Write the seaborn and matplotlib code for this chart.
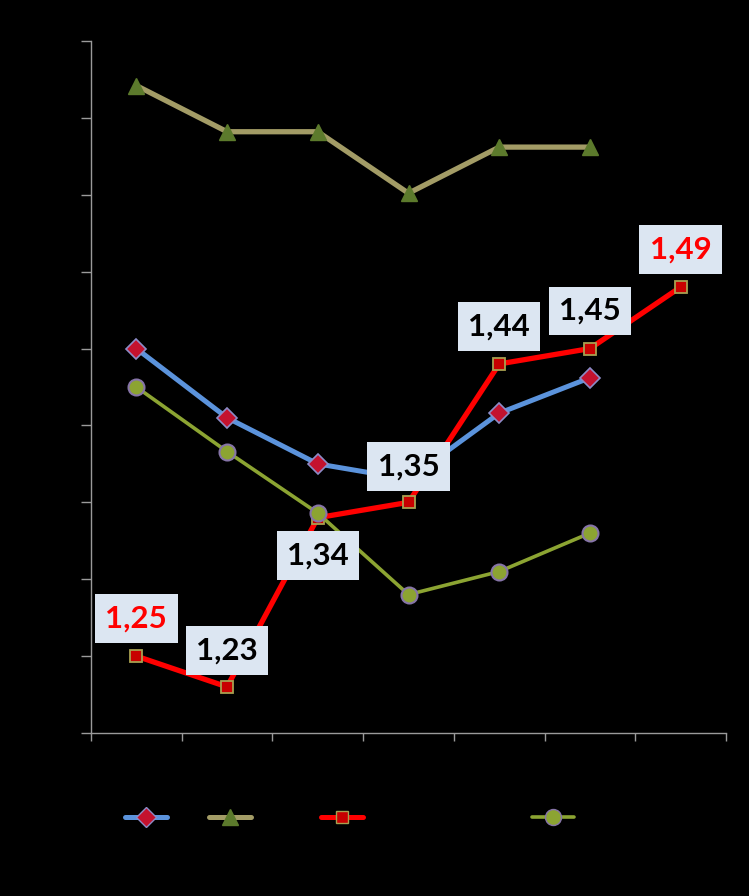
import matplotlib
matplotlib.use("Agg")
import matplotlib.pyplot as plt
import seaborn as sns
from matplotlib.lines import Line2D
from matplotlib.ticker import FixedLocator, FuncFormatter

# ---- data ----
positions = [0, 1, 2, 3, 4, 5, 6]
series_blue = [1.45, 1.405, 1.375, 1.365, 1.408, 1.431]
series_green = [1.621, 1.591, 1.591, 1.551, 1.581, 1.581]
series_red = [1.25, 1.23, 1.34, 1.35, 1.44, 1.45, 1.49]
series_olive = [1.425, 1.383, 1.343, 1.290, 1.305, 1.330]
red_labels = ["1,25", "1,23", "1,34", "1,35", "1,44", "1,45", "1,49"]
red_label_colors = ["#ff0000", "#000000", "#000000", "#000000", "#000000", "#000000", "#ff0000"]
red_label_dy = [27, 26, -27, 26, 27, 27, 27]
y_ticks = [1.20, 1.25, 1.30, 1.35, 1.40, 1.45, 1.50, 1.55, 1.60, 1.65]

sns.set_theme(style="white")
plt.rcParams["font.family"] = ["Lato", "DejaVu Sans"]

fig = plt.figure(figsize=(7.49, 8.96), dpi=100, facecolor="black")
ax = fig.add_axes([91 / 749, 1 - 733 / 896, (726 - 91) / 749, (733 - 41) / 896])
ax.set_facecolor("black")

sns.lineplot(x=positions[:len(series_blue)], y=series_blue, ax=ax, color="#5b93dc",
             linewidth=3.6, marker="D", markersize=10, markerfacecolor="#c4122e",
             markeredgecolor="#8c8cc8", markeredgewidth=1.2, zorder=3)
sns.lineplot(x=positions[:len(series_green)], y=series_green, ax=ax, color="#a39c66",
             linewidth=3.8, marker="^", markersize=11.5, markerfacecolor="#5c7a2c",
             markeredgecolor="#5c7a2c", markeredgewidth=1.0, zorder=3)
sns.lineplot(x=positions, y=series_red, ax=ax, color="#ff0000",
             linewidth=3.8, marker="s", markersize=9, markerfacecolor="#c80000",
             markeredgecolor="#a8a050", markeredgewidth=1.3, zorder=4)
sns.lineplot(x=positions[:len(series_olive)], y=series_olive, ax=ax, color="#8ca432",
             linewidth=2.6, marker="o", markersize=11.5, markerfacecolor="#8ca432",
             markeredgecolor="#8674a8", markeredgewidth=1.5, zorder=5)

for x, y, txt, c, dy in zip(positions, series_red, red_labels, red_label_colors, red_label_dy):
    ax.annotate(txt, (x, y), xytext=(0, dy), textcoords="offset points",
                ha="center", va="center", fontsize=22.5, fontweight="bold", color=c,
                bbox=dict(boxstyle="square,pad=0.33", facecolor="#dce6f2", edgecolor="none"),
                zorder=6)

ax.set_xlim(-0.5, 6.5)
ax.set_ylim(1.20, 1.65)
ax.xaxis.set_major_locator(FixedLocator([p - 0.5 for p in positions] + [positions[-1] + 0.5]))
ax.xaxis.set_major_formatter(FuncFormatter(lambda v, p: ""))
ax.yaxis.set_major_locator(FixedLocator(y_ticks))
ax.yaxis.set_major_formatter(FuncFormatter(lambda v, p: f"{v:.2f}".replace(".", ",")))
ax.tick_params(axis="x", direction="out", length=6, width=1, color="#9a9a9a", bottom=True)
ax.tick_params(axis="y", direction="out", length=7, width=1, color="#9a9a9a", left=True,
               labelcolor="black", labelsize=11)
ax.set_xlabel("")
ax.set_ylabel("")
for s in ["top", "right"]:
    ax.spines[s].set_visible(False)
for s in ["left", "bottom"]:
    ax.spines[s].set_color("#9a9a9a")
    ax.spines[s].set_linewidth(1)
ax.grid(False)

# legend handles (labels are not visible in the reference)
handles = [
    Line2D([], [], color="#5b93dc", linewidth=3.6, marker="D", markersize=10,
           markerfacecolor="#c4122e", markeredgecolor="#8c8cc8"),
    Line2D([], [], color="#a39c66", linewidth=3.6, marker="^", markersize=11.5,
           markerfacecolor="#5c7a2c", markeredgecolor="#5c7a2c"),
    Line2D([], [], color="#ff0000", linewidth=3.6, marker="s", markersize=9,
           markerfacecolor="#c80000", markeredgecolor="#a8a050"),
    Line2D([], [], color="#8ca432", linewidth=2.6, marker="o", markersize=11.5,
           markerfacecolor="#8ca432", markeredgecolor="#8674a8"),
]
legend_x = [146, 230, 342, 553]
for h, lx in zip(handles, legend_x):
    fig.legend([h], [""], loc="center", bbox_to_anchor=(lx / 749, 1 - 818 / 896),
               frameon=False, handlelength=3.0, handletextpad=0, borderpad=0,
               borderaxespad=0, fontsize=10)

fig.savefig("out.png", dpi=100, facecolor="black")
